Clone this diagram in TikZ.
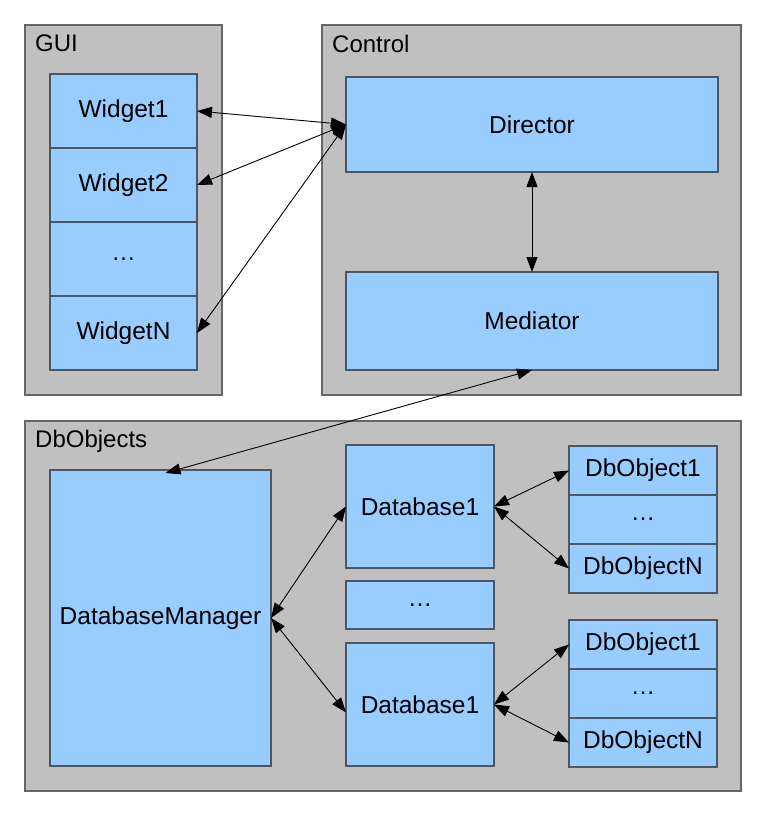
\documentclass[tikz,border=0pt]{standalone}
\usepackage{fontspec}
\setmainfont{Liberation Sans}
\usepackage{tikz}
\usetikzlibrary{arrows.meta,positioning}
\definecolor{groupgray}{HTML}{C0C0C0}
\definecolor{groupline}{HTML}{666666}
\definecolor{boxblue}{HTML}{99CCFF}
\definecolor{boxline}{HTML}{4A5866}

\begin{document}
\begin{tikzpicture}[x=1pt,y=-1pt,
    group/.style={draw=groupline,fill=groupgray,line width=1.5pt,inner sep=0pt,outer sep=0pt,anchor=north west},
    title/.style={inner sep=0pt,anchor=north west,font=\fontsize{24}{28}\selectfont},
    box/.style={draw=boxline,fill=boxblue,line width=1.2pt,inner sep=0pt,outer sep=0pt,font=\fontsize{24.5}{28}\selectfont},
    widget/.style={box,minimum width=147pt,minimum height=74pt},
    dbobj/.style={box,minimum width=148pt,minimum height=49pt},
    link/.style={{Triangle[length=15pt,width=11pt]}-{Triangle[length=15pt,width=11pt]},line width=0.9pt}]
    \useasboundingbox (0,0) rectangle (767,819);
    % groups
    \node[group,minimum width=197pt,minimum height=370pt] (gui) at (25,25) {};
    \node[title] (guititle) at (35,35) {GUI};
    \node[group,minimum width=419pt,minimum height=370pt] (control) at (322,25) {};
    \node[title] (controltitle) at (332,35) {Control};
    \node[group,minimum width=716pt,minimum height=370pt] (dbobjects) at (25,421) {};
    \node[title] (dbobjectstitle) at (35,430) {DbObjects};
    % GUI
    \node[widget,anchor=north west] (w1) at (50,74) {Widget1};
    \node[widget,below=0pt of w1] (w2) {Widget2};
    \node[widget,below=0pt of w2] (w3) {\dots};
    \node[widget,below=0pt of w3] (wn) {WidgetN};
    % Control
    \node[box,anchor=north west,minimum width=372pt,minimum height=95pt] (director) at (346,77) {Director};
    \node[box,anchor=north west,minimum width=372pt,minimum height=98pt] (mediator) at (346,272) {Mediator};
    % DbObjects
    \node[box,anchor=north west,minimum width=221pt,minimum height=296pt] (dbmanager) at (50,470) {DatabaseManager};
    \node[box,anchor=north west,minimum width=148pt,minimum height=123pt] (dba) at (346,445) {Database1};
    \node[box,anchor=north west,minimum width=148pt,minimum height=48pt] (dbdots) at (346,581) {\dots};
    \node[box,anchor=north west,minimum width=148pt,minimum height=123pt] (dbb) at (346,643) {Database1};
    \node[dbobj,anchor=north west] (oa1) at (569,446) {DbObject1};
    \node[dbobj,below=0pt of oa1] (oa2) {\dots};
    \node[dbobj,below=0pt of oa2] (oan) {DbObjectN};
    \node[dbobj,anchor=north west] (ob1) at (569,620) {DbObject1};
    \node[dbobj,below=0pt of ob1] (ob2) {\dots};
    \node[dbobj,below=0pt of ob2] (obn) {DbObjectN};
    % links
    \draw[link] (w1.east) -- (director.west);
    \draw[link] (w2.east) -- (director.west);
    \draw[link] (wn.east) -- (director.west);
    \draw[link] (director.south) -- (mediator.north);
    \draw[link] (mediator.south) -- ([xshift=5pt,yshift=-3pt]dbmanager.north);
    \draw[link] (dbmanager.east) -- (dba.west);
    \draw[link] (dbmanager.east) -- ([yshift=-8pt]dbb.west);
    \draw[link] (dba.east) -- (oa1.west);
    \draw[link] (dba.east) -- (oan.west);
    \draw[link] (dbb.east) -- (ob1.west);
    \draw[link] (dbb.east) -- (obn.west);
\end{tikzpicture}
\end{document}
